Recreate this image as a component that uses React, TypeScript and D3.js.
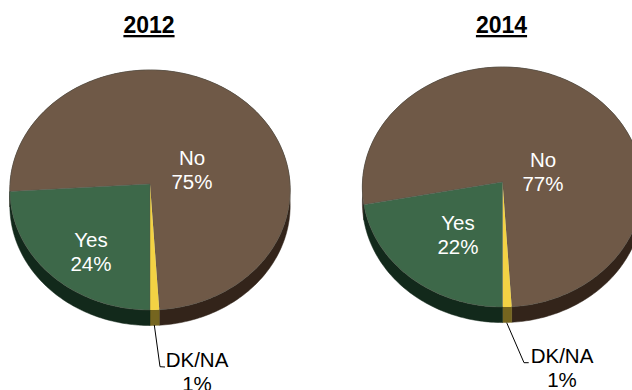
import React from "react";
import * as d3 from "d3";

const WIDTH = 632;
const HEIGHT = 390;

const categories = ["No", "DK/NA", "Yes"];
const years = ["2012", "2014"];
const values2012 = [75, 1, 24];
const values2014 = [77, 1, 22];

const topColors = ["#6f5947", "#f3d244", "#3d6849"];
const sideColors = ["#33241a", "#75651f", "#12291b"];

type Layout = {
  title: string;
  values: number[];
  cx: number;
  cy: number;
  radiusX: number;
  radiusY: number;
  tilt: number;
  depth: number;
  noLabel: [number, number];
  yesLabel: [number, number];
  dkLabel: [number, number];
  leader: [number, number][];
};

const charts: Layout[] = [
  {
    title: years[0],
    values: values2012,
    cx: 150,
    cy: 184,
    radiusX: 140,
    radiusY: 119.7,
    tilt: 0.05,
    depth: 15.5,
    noLabel: [192, 165],
    yesLabel: [91, 247],
    dkLabel: [197, 367],
    leader: [
      [154.3, 325],
      [160, 366.7],
      [165, 367],
    ],
  },
  {
    title: years[1],
    values: values2014,
    cx: 502.5,
    cy: 182,
    radiusX: 140,
    radiusY: 119.8,
    tilt: 0.042,
    depth: 15.5,
    noLabel: [543, 167],
    yesLabel: [458, 230],
    dkLabel: [562, 363],
    leader: [
      [506.7, 322.7],
      [524, 362.7],
      [528.7, 362.7],
    ],
  },
];

// Projects a pie angle and radial fraction onto the tilted disc, with nearer points drawn larger.
function project(c: Layout, angle: number, r = 1): [number, number] {
  const u = Math.sin(angle) * r;
  const v = -Math.cos(angle) * r;
  const w = 1 - c.tilt * v;
  return [c.cx + (c.radiusX * u) / w, c.cy + (c.radiusY * v) / w];
}

const line = d3.line<[number, number]>();

function rim(c: Layout, a: number, b: number): [number, number][] {
  const steps = Math.max(2, Math.ceil(Math.abs(b - a) / 0.02));
  return d3.range(steps + 1).map((i) => project(c, a + ((b - a) * i) / steps));
}

function PieChart({ c }: { c: Layout }) {
  const total = d3.sum(c.values);
  const yesShare = c.values[2] / total;
  const start = Math.PI + yesShare * 2 * Math.PI;
  const arcs = d3
    .pie<number>()
    .sort(null)
    .startAngle(start)
    .endAngle(start + 2 * Math.PI)(c.values);

  const sideSegments = arcs.map((arc) => {
    const top = rim(c, arc.startAngle, arc.endAngle);
    const bottom = top
      .slice()
      .reverse()
      .map(([x, y]) => [x, y + c.depth] as [number, number]);
    return line([...top, ...bottom]) + "Z";
  });

  return (
    <g>
      <text
        x={c.cx - 1}
        y={33}
        textAnchor="middle"
        fontSize={23}
        fontWeight="bold"
        textDecoration="underline"
        fill="#000"
      >
        {c.title}
      </text>
      {arcs.map((arc, i) => (
        <path key={"side" + i} d={sideSegments[i]} fill={sideColors[i]} stroke={sideColors[i]} strokeWidth={0.5} />
      ))}
      {arcs.map((arc, i) => {
        const pts: [number, number][] = [[c.cx, c.cy], ...rim(c, arc.startAngle, arc.endAngle)];
        return (
          <path
            key={"top" + i}
            d={line(pts) + "Z"}
            fill={topColors[i]}
            stroke={i === 1 ? "none" : "#55554a"}
            strokeOpacity={0.7}
            strokeWidth={0.6}
            strokeLinejoin="round"
          />
        );
      })}
      <path d={line(c.leader) ?? ""} fill="none" stroke="#000" strokeWidth={1} />
      <g textAnchor="middle" fontSize={20.5}>
        <text x={c.noLabel[0]} y={c.noLabel[1]} fill="#fff">
          {categories[0]}
        </text>
        <text x={c.noLabel[0]} y={c.noLabel[1] + 24} fill="#fff">
          {c.values[0]}%
        </text>
        <text x={c.yesLabel[0]} y={c.yesLabel[1]} fill="#fff">
          {categories[2]}
        </text>
        <text x={c.yesLabel[0]} y={c.yesLabel[1] + 24} fill="#fff">
          {c.values[2]}%
        </text>
        <text x={c.dkLabel[0]} y={c.dkLabel[1]} fill="#000">
          {categories[1]}
        </text>
        <text x={c.dkLabel[0]} y={c.dkLabel[1] + 24} fill="#000">
          {c.values[1]}%
        </text>
      </g>
    </g>
  );
}

export default function App() {
  return (
    <svg
      width={WIDTH}
      height={HEIGHT}
      viewBox={`0 0 ${WIDTH} ${HEIGHT}`}
      fontFamily="'Liberation Sans', Arial, sans-serif"
      style={{ position: "fixed", left: 0, top: 0, background: "#fff", display: "block" }}
    >
      {charts.map((c) => (
        <PieChart key={c.title} c={c} />
      ))}
    </svg>
  );
}
